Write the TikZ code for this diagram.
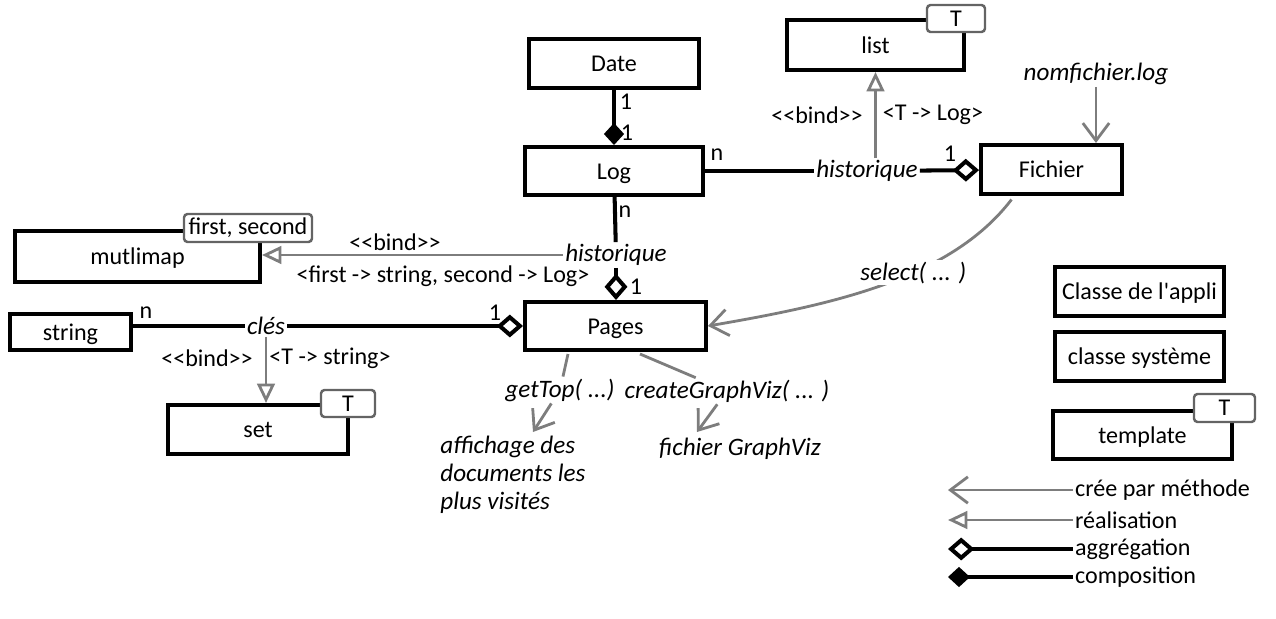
\documentclass[tikz,border=0pt]{standalone}
\usepackage{fontspec}
\setmainfont{Carlito}
\usetikzlibrary{arrows.meta}
\definecolor{sketch}{RGB}{125,125,125}
\newcommand\itfont{\itshape\fontsize{14.3}{15.9}\selectfont}
\tikzset{
  classe/.style={draw, line width=2.3pt, inner sep=0pt, text height=1.1em, text depth=0.16em},
  tab/.style={draw=sketch!80!black, fill=white, line width=1.4pt, rounded corners=2pt, inner sep=0pt},
  lbl/.style={inner sep=1pt},
  role/.style={lbl, font=\itfont},
  assoc/.style={line width=2.3pt},
  agg/.style={assoc, -{Diamond[open, length=15pt, width=13pt]}},
  comp/.style={assoc, -{Diamond[length=12.5pt, width=11.5pt]}},
  bind/.style={draw=sketch, line width=1.6pt, -{Triangle[open, length=11pt, width=10pt]}},
  methode/.style={draw=sketch, line width=1.6pt, -{Straight Barb[length=10pt, width=15pt]}},
}
\begin{document}
\begin{tikzpicture}[x=0.02cm, y=-0.02cm, font=\fontsize{13.7}{16}\selectfont]
\useasboundingbox (0,0) rectangle (1276,619);
% classes
\node[classe, minimum width=3.4cm, minimum height=0.98cm] (Date) at (614,63.5) {Date};
\node[classe, minimum width=3.54cm, minimum height=1cm] (list) at (875.5,45) {list};
\node[classe, minimum width=3.56cm, minimum height=0.96cm] (Log) at (614,171) {Log};
\node[classe, minimum width=2.82cm, minimum height=0.98cm] (Fichier) at (1051.5,169.5) {Fichier};
\node[classe, minimum width=4.9cm, minimum height=1.02cm] (mutlimap) at (137.5,256.5) {mutlimap};
\node[classe, minimum width=3.62cm, minimum height=0.96cm] (Pages) at (615.5,326) {Pages};
\node[classe, minimum width=2.42cm, minimum height=0.72cm] (string) at (70.5,332) {string};
\node[classe, minimum width=3.6cm, minimum height=0.98cm] (set) at (258,429.5) {set};
% template parameters
\node[tab, minimum width=1.16cm, minimum height=0.54cm] (listT) at (956,18.5) {T};
\node[tab, minimum width=2.56cm, minimum height=0.56cm] (mapT) at (248,228) {first, second};
\node[tab, minimum width=1.08cm, minimum height=0.54cm] (setT) at (348,403.5) {T};

% Date - Log
\draw[comp] (Date) -- (Log);
\node[lbl] at (626,102) {1};
\node[lbl] at (627,133) {1};

% Log - Fichier
\node[role] (hist1) at (867,171) {historique};
\draw[assoc] (Log) -- (hist1);
\draw[agg] (hist1) -- (Fichier);
\node[lbl] at (717,155) {n};
\node[lbl] at (950,154) {1};
\draw[bind] (hist1.north -| list.south) -- (list.south);
\node[lbl] at (817,115) {<{}<bind>{}>};
\node[lbl] at (933,115) {<T -> Log>};

% Log - Pages
\node[role] (hist2) at (616,255) {historique};
\draw[assoc] (Log) -- (hist2);
\draw[agg] (hist2) -- (hist2 |- Pages.north);
\node[lbl] at (625,212) {n};
\node[lbl] at (636,287) {1};
\draw[bind] (hist2.west) -- (hist2.west -| mutlimap.east);
\node[lbl] at (395,242) {<{}<bind>{}>};
\node[lbl] at (443,276) {<first -> string, second -> Log>};

% string - Pages
\node[role] (cles) at (266,326) {clés};
\draw[assoc] (cles.west -| string.east) -- (cles.west);
\draw[agg] (cles.east) -- (cles.east -| Pages.west);
\node[lbl] at (146,313) {n};
\node[lbl] at (495,313) {1};
\draw[bind] (cles.south) -- (cles.south |- set.north);
\node[lbl] at (207,358) {<{}<bind>{}>};
\node[lbl] at (330,358) {<T -> string>};

% methodes
\node[role] (nomf) at (1096,74) {nomfichier.log};
\draw[methode] (nomf.south) -- (nomf.south |- Fichier.north);
\draw[methode] ([xshift=-0.8cm, yshift=-2pt]Fichier.south) .. controls (950,280) and (830,305) .. node[pos=0.4, role, fill=white] (sel) {select( ... )} (Pages.east);
\node[role] (gt) at (560,390) {getTop( ...)};
\node[role] (cg) at (727,391) {createGraphViz( ... )};
\node[anchor=west, align=left, inner sep=0pt, font=\itfont] (aff) at (440,475) {affichage des\\documents les\\plus visités};
\node[role] (gv) at (740,449) {fichier GraphViz};
\coordinate (gtStart) at (568,354);
\coordinate (affTip) at (533,432);
\coordinate (cgStart) at (640,354);
\coordinate (gvTip) at (697,432);
\draw[methode] (gtStart) -- (gt) -- (affTip);
\draw[methode] (cgStart) -- (cg) -- (gvTip);

% legende
\node[classe, minimum width=3.38cm, minimum height=0.98cm] (appli) at (1139.5,291.5) {Classe de l\textquotesingle appli};
\node[classe, minimum width=3.38cm, minimum height=0.98cm] (systeme) at (1139.5,356.5) {classe système};
\node[classe, minimum width=3.58cm, minimum height=0.96cm] (template) at (1142.5,435) {template};
\node[tab, minimum width=1.22cm, minimum height=0.56cm] (tplT) at (1224.5,408) {T};
\coordinate (lgx) at (948,0);
\node[lbl, anchor=west] (cree) at (1073,490) {crée par méthode};
\node[lbl, anchor=west] (real) at (1073,520) {réalisation};
\node[lbl, anchor=west] (aggr) at (1073,549) {aggrégation};
\node[lbl, anchor=west] (compo) at (1073,577) {composition};
\draw[methode] (cree.west) -- (cree.west -| lgx);
\draw[bind] (real.west) -- (real.west -| lgx);
\draw[agg] (aggr.west) -- (aggr.west -| lgx);
\draw[comp] (compo.west) -- (compo.west -| lgx);
\end{tikzpicture}
\end{document}
